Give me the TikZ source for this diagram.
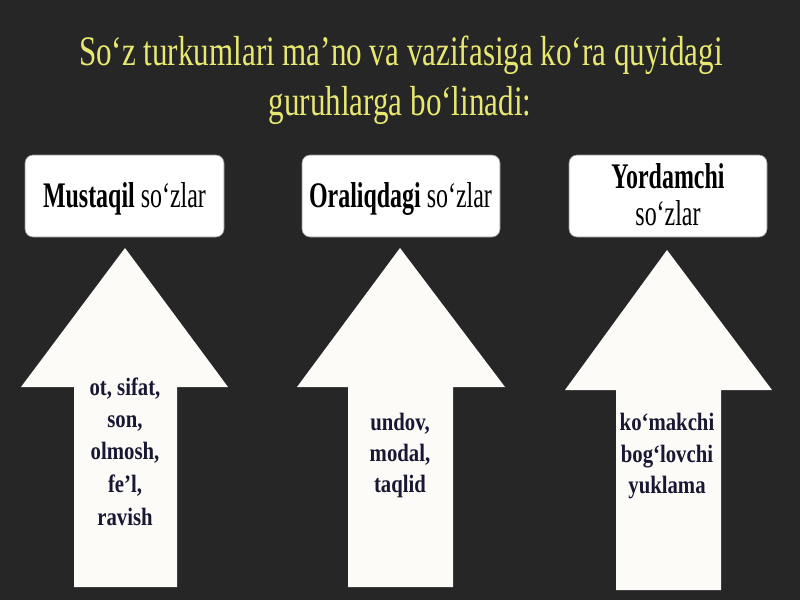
\documentclass[tikz,border=0pt]{standalone}
\usepackage{fontspec}
\setmainfont{Liberation Serif}
\newfontfamily\titlefont[FakeStretch=0.74]{Liberation Serif}
\newfontfamily\boxfont[FakeStretch=0.665]{Liberation Serif}
\newfontfamily\arrowfont[FakeStretch=0.83]{Liberation Serif}
\definecolor{bgc}{RGB}{38,38,39}
\definecolor{titlec}{RGB}{232,232,112}
\definecolor{navy}{RGB}{24,24,52}
\definecolor{arrowc}{RGB}{253,251,248}
\tikzset{
  titletext/.style={anchor=base, text=titlec, font=\titlefont\fontsize{42}{50}\selectfont, inner sep=0pt},
  boxshape/.style={fill=white, draw=black!45, line width=0.6pt, rounded corners=8pt},
  boxtext/.style={anchor=base, text=black, font=\boxfont\fontsize{36}{37}\selectfont, inner sep=0pt},
  arrowshape/.style={fill=arrowc, draw=none},
  arrowtext/.style={anchor=base, text=navy, font=\arrowfont\bfseries\fontsize{25}{32}\selectfont, inner sep=0pt},
}
\begin{document}
\begin{tikzpicture}[x=1pt,y=-1pt]
\fill[bgc] (0,0) rectangle (800,600);
\useasboundingbox (0,0) rectangle (800,600);
% title
\node[titletext] (t1) at (401,65) {So‘z turkumlari ma’no va vazifasiga ko‘ra quyidagi};
\node[titletext] (t2) at (400,115) {guruhlarga bo‘linadi:};
% boxes
\draw[boxshape] (25,155) rectangle (224,237);
\draw[boxshape] (302,155) rectangle (500,237);
\draw[boxshape] (569,155) rectangle (767,237);
\node[boxtext] (b1) at (124.5,207) {\textbf{Mustaqil} so‘zlar};
\node[boxtext] (b2) at (400.5,207) {\textbf{Oraliqdagi} so‘zlar};
\node[boxtext] (b3a) at (668,188) {\textbf{Yordamchi}};
\node[boxtext] (b3b) at (668,225) {so‘zlar};
% arrows
\fill[arrowshape] (74,587) -- (74,387) -- (21,387) -- (125,248) -- (228,387) -- (177,387) -- (177,587) -- cycle;
\fill[arrowshape] (348,587) -- (348,387) -- (297,387) -- (400,248) -- (505,387) -- (453,387) -- (453,587) -- cycle;
\fill[arrowshape] (616,590) -- (616,390) -- (565,390) -- (667,250) -- (772,390) -- (721,390) -- (721,590) -- cycle;
% arrow texts
\node[arrowtext] (a1a) at (125,395) {ot, sifat,};
\node[arrowtext] (a1b) at (125,427) {son,};
\node[arrowtext] (a1c) at (125,459) {olmosh,};
\node[arrowtext] (a1d) at (125,492) {fe’l,};
\node[arrowtext] (a1e) at (125,525) {ravish};
\node[arrowtext] (a2a) at (400,430) {undov,};
\node[arrowtext] (a2b) at (400,461) {modal,};
\node[arrowtext] (a2c) at (400,492) {taqlid};
\node[arrowtext] (a3a) at (667,430) {ko‘makchi};
\node[arrowtext] (a3b) at (667,462) {bog‘lovchi};
\node[arrowtext] (a3c) at (667,493) {yuklama};
\end{tikzpicture}
\end{document}
